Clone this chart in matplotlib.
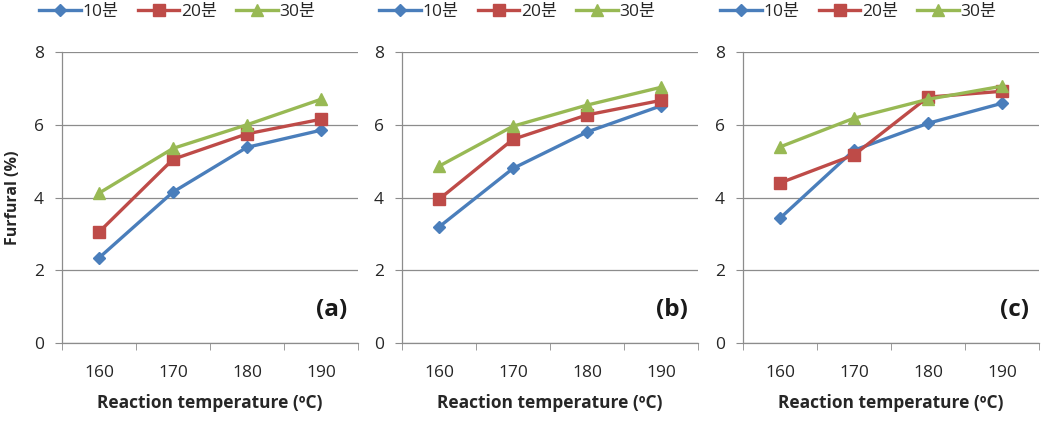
import matplotlib
matplotlib.use("Agg")
import matplotlib.pyplot as plt

plt.rcParams["font.family"] = ["Open Sans", "Noto Sans CJK KR", "DejaVu Sans"]

# ------------------------------------------------------------
# data
# ------------------------------------------------------------
temperatures = ["160", "170", "180", "190"]
series_names = ["10분", "20분", "30분"]
panel_labels = ["(a)", "(b)", "(c)"]

a_10 = [2.34, 4.15, 5.38, 5.85]
a_20 = [3.05, 5.05, 5.75, 6.15]
a_30 = [4.12, 5.35, 6.00, 6.70]

b_10 = [3.19, 4.80, 5.80, 6.52]
b_20 = [3.95, 5.60, 6.27, 6.67]
b_30 = [4.86, 5.96, 6.54, 7.03]

c_10 = [3.43, 5.30, 6.04, 6.59]
c_20 = [4.40, 5.17, 6.76, 6.92]
c_30 = [5.39, 6.18, 6.70, 7.06]

panels = [(a_10, a_20, a_30), (b_10, b_20, b_30), (c_10, c_20, c_30)]

colors = ["#4A7EBB", "#BE4B48", "#98B954"]
markers = ["D", "s", "^"]
msizes = [6.5, 8.5, 8.5]

W, H = 1047, 425
fig = plt.figure(figsize=(W / 100, H / 100), dpi=100)

lefts = [62, 402, 743]
ax_w = 296
top, bottom = 52, 343

grid_c = "#8c8c8c"
text_c = "#262626"

for i, (left, data) in enumerate(zip(lefts, panels)):
    ax = fig.add_axes([left / W, (H - bottom) / H, ax_w / W, (bottom - top) / H])
    x = range(1, len(temperatures) + 1)
    for vals, name, col, mk, ms in zip(data, series_names, colors, markers, msizes):
        ax.plot(x, vals, color=col, marker=mk, markersize=ms, linewidth=2.4,
                label=name, markeredgecolor=col, zorder=3)

    ax.set_xlim(0.5, len(temperatures) + 0.5)
    ax.set_ylim(0, 8)
    ax.set_yticks([0, 2, 4, 6, 8])
    ax.set_xticks([1, 2, 3, 4])
    ax.set_xticklabels(temperatures)
    ax.set_xticks([0.5, 1.5, 2.5, 3.5, 4.5], minor=True)
    ax.tick_params(axis="x", which="major", length=0, pad=16, labelsize=12.5, labelcolor=text_c)
    ax.tick_params(axis="x", which="minor", length=5, color=grid_c, direction="out")
    ax.tick_params(axis="y", length=5, color=grid_c, pad=8, labelsize=12.5, labelcolor=text_c)

    ax.grid(axis="y", color=grid_c, linewidth=0.9)
    ax.set_axisbelow(True)
    for s in ["top", "right"]:
        ax.spines[s].set_visible(False)
    for s in ["left", "bottom"]:
        ax.spines[s].set_color(grid_c)
        ax.spines[s].set_linewidth(0.9)

    ax.set_xlabel("Reaction temperature (ºC)", fontsize=12.5, fontweight="bold",
                  color=text_c, labelpad=9)
    if i == 0:
        ax.set_ylabel("Furfural (%)", fontsize=11.5, fontweight="bold", color=text_c)
        ax.yaxis.set_label_coords(-0.14, 0.5)

    ax.text(0.965, 0.115, panel_labels[i], transform=ax.transAxes,
            ha="right", va="center", fontsize=17.5, fontweight="bold", color="#1a1a1a")

    ax.legend(loc="center", bbox_to_anchor=(0.39, 1.137), ncol=3, frameon=False,
              fontsize=12.5, handlelength=2.4, handletextpad=0.1, columnspacing=1.1,
              borderaxespad=0, labelcolor=text_c)

fig.savefig("out.png", dpi=100)
